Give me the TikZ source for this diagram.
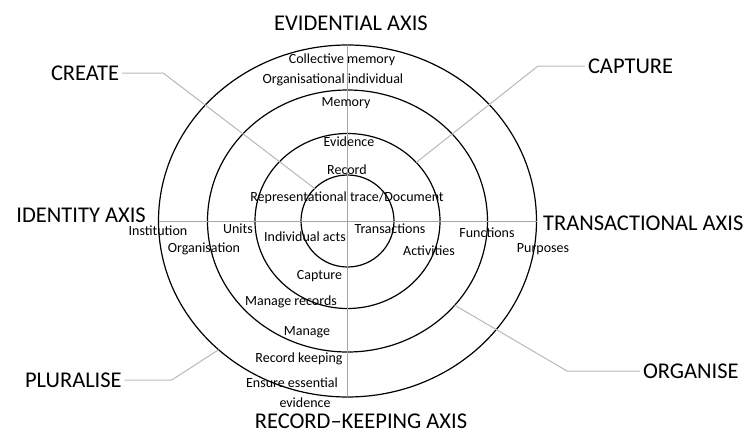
\documentclass[tikz,border=0pt]{standalone}
\usepackage{fontspec}
\setmainfont{Carlito}
\begin{document}
\begin{tikzpicture}[x=1pt,y=-1pt,
    ring/.style={line width=1.2pt},
    axisline/.style={black!35,line width=1pt},
    leader/.style={black!28,line width=1pt},
    big/.style={font=\fontsize{22.5}{24}\selectfont,inner sep=0pt,text height=14.5pt,text depth=0pt},
    tag/.style={big,outer sep=3pt},
    small/.style={font=\fontsize{14}{16}\selectfont,inner sep=0pt,text height=9pt,text depth=3pt}]
  \useasboundingbox (0,0) rectangle (748,434);
  \coordinate (c) at (347.5,221);

  % the four rings
  \foreach \rx/\ry in {46.5/46,92.5/87.5,140/131,189/176}
    \draw[ring] (c) ellipse [x radius=\rx pt, y radius=\ry pt];

  % axes
  \draw[axisline] ([yshift=176pt]c) -- ([yshift=-176pt]c);
  \draw[axisline] ([xshift=-189pt]c) -- ([xshift=189pt]c);

  \node[big] (evid) at (351,23.5) {EVIDENTIAL AXIS};
  \node[big,anchor=west] (trans) at (543,223) {TRANSACTIONAL AXIS};
  \node[big,anchor=east] (ident) at (146,215) {IDENTITY AXIS};
  \node[big] (rk) at (361,421.5) {RECORD--KEEPING AXIS};

  % dimensions
  \node[tag,anchor=west] (create) at (48,73) {CREATE};
  \draw[leader] (create.east) -- ++(41,0) -- ([shift={(135:46.5pt and 46pt)}]c);
  \node[tag,anchor=west] (capture) at (585,66) {CAPTURE};
  \draw[leader] (capture.west) -- ++(-47,0) -- ([shift={(42:92.5pt and 87.5pt)}]c);
  \node[tag,anchor=west] (organise) at (640,371) {ORGANISE};
  \draw[leader] (organise.west) -- ++(-73,0) -- ([shift={(-40:140pt and 131pt)}]c);
  \node[tag,anchor=west] (pluralise) at (22,380) {PLURALISE};
  \draw[leader] (pluralise.east) -- ++(47,0) -- ([shift={(-133:189pt and 176pt)}]c);

  % ring labels
  \node[small] (collmem) at (342,60) {Collective memory};
  \node[small] (orgind) at (333,80) {Organisational individual};
  \node[small] (memory) at (346,103) {Memory};
  \node[small] (evidence) at (349,143) {Evidence};
  \node[small] (record) at (347,171) {Record};
  \node[small] (trace) at (347,198) {Representational trace/Document};
  \node[small] (institution) at (158,232) {Institution};
  \node[small] (organisation) at (204,249) {Organisation};
  \node[small] (units) at (238,230) {Units};
  \node[small] (acts) at (305,238) {Individual acts};
  \node[small] (transactions) at (390,230) {Transactions};
  \node[small] (activities) at (429,252) {Activities};
  \node[small] (functions) at (487,234) {Functions};
  \node[small] (purposes) at (543,249) {Purposes};
  \node[small] (capt) at (319.5,276) {Capture};
  \node[small] (managerec) at (291,302) {Manage records};
  \node[small] (manage) at (307,332) {Manage};
  \node[small] (keeping) at (299,359) {Record keeping};
  \node[small] (ensure) at (292,384) {Ensure essential};
  \node[small] (essevid) at (305,404) {evidence};
\end{tikzpicture}
\end{document}
